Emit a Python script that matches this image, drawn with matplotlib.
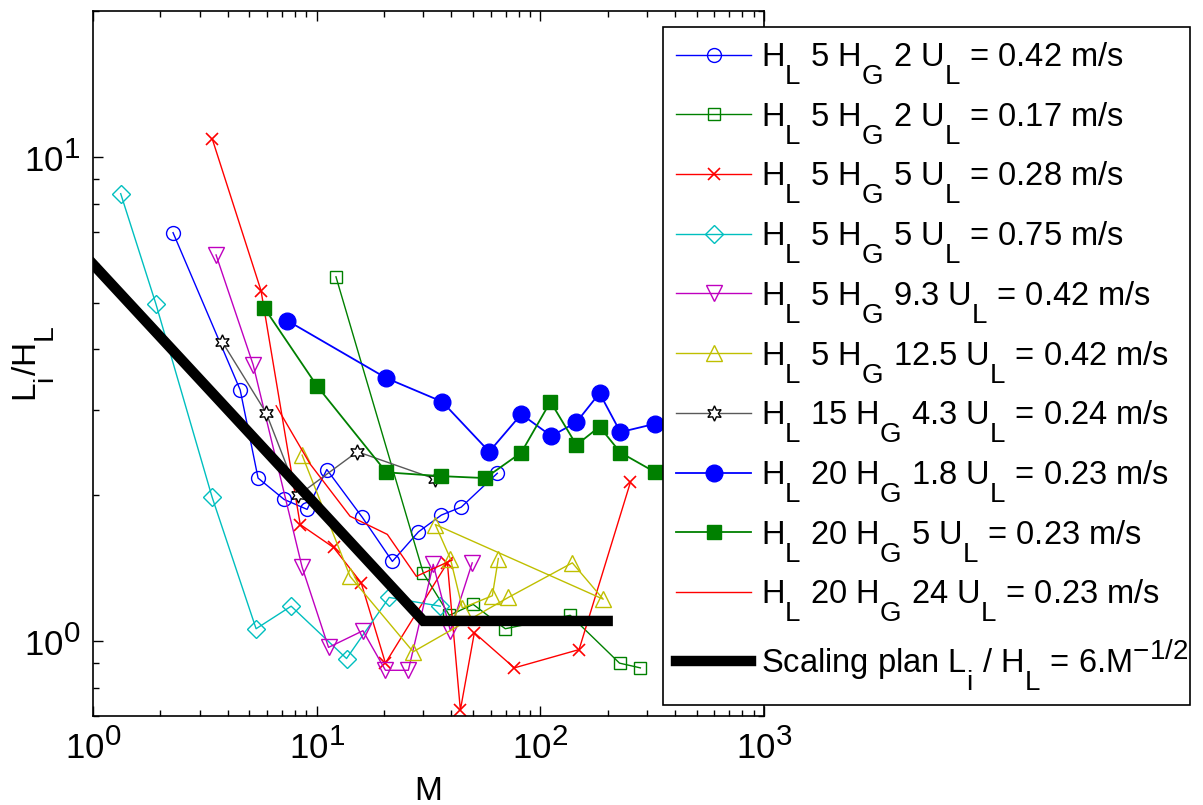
import numpy as np
import matplotlib
matplotlib.use('Agg')
import matplotlib.pyplot as plt
from matplotlib.ticker import LogLocator, NullFormatter

# MATLAB-like tex: bigger, lower subscripts
try:
    import matplotlib._mathtext as _mt
    _mt.SHRINK_FACTOR = 0.85
    _mt.FontConstantsBase.sub1 = 1.0
    _mt.FontConstantsBase.subdrop = 0.6
except Exception:
    pass

plt.rcParams['font.family'] = ['Liberation Sans', 'DejaVu Sans']
plt.rcParams['mathtext.default'] = 'regular'
plt.rcParams['font.size'] = 24

# data (M, Li/HL) for each run
m1 = [2.28, 4.55, 5.47, 7.16, 9.06, 11.1, 16.0, 21.8, 28.5, 36.1, 44.3, 64.2]
l1 = [6.97, 3.30, 2.17, 1.96, 1.87, 2.26, 1.80, 1.46, 1.68, 1.82, 1.89, 2.22]

m2 = [12.2, 30.0, 39.2, 50.1, 69.7, 136, 226, 280]
l2 = [5.65, 1.38, 1.13, 1.19, 1.06, 1.13, 0.90, 0.88]

m3 = [3.41, 5.64, 8.44, 11.9, 15.8, 20.3, 38.4, 43.9, 50.7, 76.5, 149, 253]
l3 = [10.9, 5.29, 1.74, 1.56, 1.32, 0.90, 1.45, 0.72, 1.04, 0.88, 0.96, 2.13]

m4 = [1.33, 1.91, 3.41, 5.36, 7.69, 13.6, 21.1, 35.7]
l4 = [8.39, 4.97, 1.98, 1.06, 1.18, 0.92, 1.23, 1.18]

m5 = [3.55, 5.20, 8.61, 11.3, 16.1, 20.3, 25.7, 33.2, 39.6, 49.6]
l5 = [6.27, 3.72, 1.42, 0.97, 1.05, 0.87, 0.87, 1.44, 1.05, 1.45]

m6 = [8.61, 14.1, 27.0, 71.9, 139, 191, 33.9, 39.6, 44.8, 61.0, 64.9]
l6 = [2.42, 1.36, 0.95, 1.23, 1.45, 1.22, 1.74, 1.48, 1.17, 1.24, 1.48]

m7 = [3.78, 5.94, 8.27, 15.2, 33.9]
l7 = [4.15, 2.96, 2.00, 2.46, 2.16]

m8 = [7.38, 20.5, 36.4, 59.1, 82.2, 112, 145, 184, 228, 327]
l8 = [4.59, 3.49, 3.12, 2.46, 2.94, 2.65, 2.83, 3.25, 2.70, 2.81]

m9 = [5.82, 10.05, 20.5, 36.1, 56.7, 82.2, 111, 145, 184, 228, 327]
l9 = [4.88, 3.36, 2.23, 2.19, 2.17, 2.45, 3.12, 2.54, 2.77, 2.45, 2.23]

m10 = [6.59, 9.35, 14.1, 20.7, 27.9, 40.4]
l10 = [3.06, 2.32, 1.81, 1.66, 1.36, 1.47]

scale_m = [1, 30, 200]
scale_l = [6.0, 1.1, 1.1]

labels = [
    r'H$_L$ 5 H$_G$ 2 U$_L$ = 0.42 m/s',
    r'H$_L$ 5 H$_G$ 2 U$_L$ = 0.17 m/s',
    r'H$_L$ 5 H$_G$ 5 U$_L$ = 0.28 m/s',
    r'H$_L$ 5 H$_G$ 5 U$_L$ = 0.75 m/s',
    r'H$_L$ 5 H$_G$ 9.3 U$_L$ = 0.42 m/s',
    r'H$_L$ 5 H$_G$ 12.5 U$_L$ = 0.42 m/s',
    r'H$_L$ 15 H$_G$ 4.3 U$_L$ = 0.24 m/s',
    r'H$_L$ 20 H$_G$ 1.8 U$_L$ = 0.23 m/s',
    r'H$_L$ 20 H$_G$ 5 U$_L$ = 0.23 m/s',
    r'H$_L$ 20 H$_G$ 24 U$_L$ = 0.23 m/s',
    r'Scaling plan L$_i$ / H$_L$ = 6.M$^{-1/2}$',
]

blue = (0, 0, 1)
green = (0, 0.5, 0)
red = (1, 0, 0)
cyan = (0, 0.75, 0.75)
magenta = (0.75, 0, 0.75)
yellow = (0.75, 0.75, 0)
gray = (0.35, 0.35, 0.35)

fig = plt.figure(figsize=(12.03, 8.05), dpi=100)
ax = fig.add_axes([93 / 1203, 1 - 716 / 805, (764 - 93) / 1203, (716 - 11) / 805])

lw = 1.0
ax.plot(m1, l1, '-o', color=blue, mfc='none', mec=blue, ms=10, lw=lw, label=labels[0])
ax.plot(m2, l2, '-s', color=green, mfc='none', mec=green, ms=9, lw=lw, label=labels[1])
ax.plot(m3, l3, '-x', color=red, mec=red, ms=9, mew=1.2, lw=lw, label=labels[2])
ax.plot(m4, l4, '-D', color=cyan, mfc='none', mec=cyan, ms=9, lw=lw, label=labels[3])
ax.plot(m5, l5, '-v', color=magenta, mfc='none', mec=magenta, ms=12, lw=lw, label=labels[4])
ax.plot(m6, l6, '-^', color=yellow, mfc='none', mec=yellow, ms=12, lw=lw, label=labels[5])
ax.plot(m7, l7, '-', color=gray, marker=(6, 1, 0), mfc='white', mec='black', ms=11, mew=1.0, lw=lw, label=labels[6])
ax.plot(m8, l8, '-o', color=blue, mfc=blue, mec=blue, ms=12, lw=lw + 0.3, label=labels[7])
ax.plot(m9, l9, '-s', color=green, mfc=green, mec=green, ms=10, lw=lw + 0.3, label=labels[8])
ax.plot(m10, l10, '-', color=red, lw=lw, label=labels[9])
ax.plot(scale_m, scale_l, '-', color='black', lw=7.5, solid_joinstyle='miter', label=labels[10])

ax.set_xscale('log')
ax.set_yscale('log')
ax.set_xlim(1, 1000)
ax.set_ylim(0.7, 20)
ax.xaxis.set_major_locator(LogLocator(base=10, numticks=10))
ax.yaxis.set_major_locator(LogLocator(base=10, numticks=10))
ax.xaxis.set_minor_formatter(NullFormatter())
ax.yaxis.set_minor_formatter(NullFormatter())
ax.tick_params(which='both', direction='in', top=True, right=True, width=1.0)
ax.tick_params(which='major', length=7, pad=9, labelsize=25)
ax.tick_params(which='minor', length=4)
for s in ax.spines.values():
    s.set_linewidth(1.2)

ax.set_xlabel('M')
ax.xaxis.set_label_coords(0.5, -0.085)
ax.set_ylabel(r'L$_i$/H$_L$')
ax.yaxis.set_label_coords(-0.055, 0.5)

# legend box spans x 663..1190 px, top at 27 px
leg = fig.legend(loc='upper left',
                 bbox_to_anchor=(663 / 1203, 1 - 27 / 805, 527 / 1203, 0.0),
                 mode='expand', borderaxespad=0, fancybox=False, framealpha=1,
                 edgecolor='black', fontsize=23.5,
                 handlelength=2.3, handletextpad=0.3, borderpad=0.4,
                 labelspacing=0.42, numpoints=1)
leg.get_frame().set_linewidth(1.2)

fig.savefig('out.png', dpi=100)
